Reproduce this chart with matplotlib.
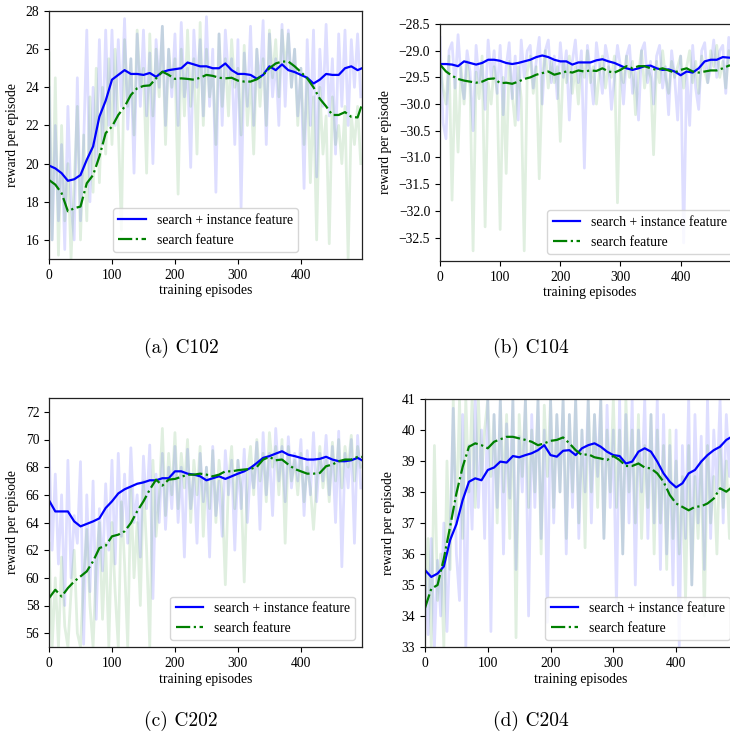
import numpy as np
import matplotlib
matplotlib.use("Agg")
import matplotlib.pyplot as plt

# ---------------- data ----------------
smooth_ep = list(range(0, 500, 10)) + [497]
raw_ep = list(range(0, 500, 5))

# (a) C102
a_smooth_blue = [19.9, 19.75, 19.5, 19.1, 19.18, 19.4, 20.2, 20.9, 22.46, 23.3,
                 24.4, 24.65, 24.9, 24.7, 24.7, 24.65, 24.75, 24.55, 24.8, 24.9,
                 24.95, 25.0, 25.3, 25.2, 25.1, 25.1, 25.0, 25.0, 25.25, 24.9,
                 24.7, 24.7, 24.65, 24.45, 24.65, 25.1, 24.9, 25.2, 24.9, 24.8,
                 24.65, 24.5, 24.2, 24.4, 24.7, 24.65, 24.65, 25.0, 25.1, 24.9, 25.0]
a_smooth_green = [19.14, 18.9, 18.45, 17.5, 17.66, 17.75, 18.97, 19.4, 20.37, 21.6,
                  21.94, 22.55, 22.98, 23.6, 23.95, 24.07, 24.1, 24.47, 24.82, 24.65,
                  24.44, 24.47, 24.44, 24.4, 24.5, 24.65, 24.6, 24.5, 24.47, 24.5,
                  24.35, 24.3, 24.3, 24.42, 24.65, 25.0, 25.25, 25.35, 25.35, 25.1,
                  24.8, 24.47, 24.0, 23.4, 23.0, 22.55, 22.55, 22.7, 22.45, 22.42, 23.1]
a_raw_blue = [24, 16, 22, 17, 21, 15.5, 23, 18, 16, 24.5, 17, 21,
              27, 18, 24, 20, 26.5, 21, 27, 22,
              27, 22, 26.5, 23, 27.6, 21.8, 25.5, 19.5, 26.8, 23, 27, 22.5, 25.8, 20, 26.5, 24, 27.2, 22, 26, 23.5,
              26.8, 22, 27.4, 23.5, 25, 19.8, 27, 24, 26.5, 22.5, 27.7, 23, 26, 18.5, 26.8, 22, 27, 24.5, 25.5, 21,
              26.5, 17.7, 25.8, 23, 27.2, 22, 26, 24, 27.5, 21, 26.8, 23.5, 25.5, 22, 27.3, 23, 27, 24, 26, 22.5,
              25, 18.7, 26.5, 22, 27, 19.3, 26, 23, 27.3, 22.5, 25.5, 20.5, 26.8, 23, 27, 22, 26.5, 24, 26.8, 23.5]
a_raw_green = [25.8, 16, 24.5, 15.2, 22, 17, 20, 15, 19, 23, 16, 21.5,
               17, 23.5, 18.5, 25, 19, 24, 20.5, 25.5,
               21, 26, 22, 16.5, 26.5, 23, 25.5, 21.5, 27, 24, 25, 19.5, 26.8, 22.5, 26, 23.5, 27.2, 21, 26, 24,
               25.5, 18.4, 26, 22.5, 27, 23, 25.5, 20.5, 27.4, 22, 26, 23.5, 25, 21, 26.8, 23, 25.5, 22.5, 26.5, 24,
               25, 21.5, 26.2, 22, 24.5, 20.5, 26, 23, 25.5, 22, 27, 24.5, 26.5, 23.5, 27, 25, 26.8, 24, 26, 22,
               25, 21, 24.5, 19, 23.5, 16, 24, 20.5, 22.5, 15.8, 23.5, 21, 22, 20, 23, 15, 22.5, 21, 23, 20]

# (b) C104
b_smooth_blue = [-29.25, -29.25, -29.26, -29.29, -29.2, -29.23, -29.26, -29.23, -29.17, -29.17,
                 -29.19, -29.23, -29.25, -29.23, -29.2, -29.17, -29.12, -29.09, -29.12, -29.17,
                 -29.2, -29.2, -29.26, -29.22, -29.22, -29.22, -29.18, -29.16, -29.2, -29.23,
                 -29.28, -29.33, -29.36, -29.33, -29.29, -29.28, -29.33, -29.36, -29.35, -29.39,
                 -29.46, -29.39, -29.41, -29.33, -29.2, -29.17, -29.17, -29.12, -29.13, -29.14, -29.14]
b_smooth_green = [-29.26, -29.39, -29.47, -29.53, -29.56, -29.58, -29.6, -29.58, -29.53, -29.52,
                  -29.61, -29.6, -29.62, -29.58, -29.53, -29.5, -29.45, -29.42, -29.39, -29.45,
                  -29.42, -29.39, -29.41, -29.37, -29.39, -29.37, -29.38, -29.33, -29.39, -29.41,
                  -29.36, -29.29, -29.33, -29.29, -29.29, -29.33, -29.36, -29.33, -29.37, -29.41,
                  -29.36, -29.33, -29.39, -29.41, -29.39, -29.37, -29.37, -29.33, -29.28, -29.27, -29.27]
b_raw_blue = [-28.75, -30.35, -30.65, -29.0, -28.85, -29.7, -28.7, -29.5, -29.9, -29.0,
              -29.4, -30.5, -28.9, -29.6, -29.2, -30.1, -28.8, -29.5, -29.0, -29.8,
              -28.9, -30.2, -29.3, -28.85, -29.9, -29.1, -30.3, -28.8, -29.5, -29.0,
              -28.9, -29.7, -29.2, -28.75, -30.0, -29.0, -28.8, -29.6, -29.1, -29.9,
              -28.85, -29.5, -29.0, -30.3, -29.2, -28.8, -29.6, -29.0, -31.2, -28.9,
              -29.4, -30.0, -28.85, -29.3, -29.8, -28.9, -29.2, -30.1, -29.5, -28.9,
              -29.3, -30.0, -29.1, -28.9, -29.8, -29.4, -30.3, -29.0, -28.85, -29.6,
              -29.2, -30.0, -29.1, -28.9, -29.7, -29.3, -30.2, -29.0, -29.5, -30.3,
              -29.1, -32.6, -29.4, -30.4, -28.9, -29.7, -30.1, -29.0, -28.85, -29.6,
              -29.3, -28.8, -29.5, -29.0, -28.9, -29.8, -28.75, -29.3, -29.0, -28.9]
b_raw_green = [-29.2, -29.7, -30.0, -29.1, -31.8, -29.5, -30.9, -29.3, -30.0, -29.2,
               -29.7, -32.75, -29.4, -29.9, -29.1, -32.3, -29.6, -30.0, -29.3, -29.8,
               -32.35, -29.5, -31.3, -29.2, -29.8, -30.4, -29.3, -29.9, -32.75, -29.4,
               -29.1, -29.8, -29.3, -31.4, -29.5, -29.0, -29.7, -29.2, -29.6, -29.3,
               -30.7, -29.2, -29.6, -29.1, -29.8, -29.3, -30.0, -29.2, -29.5, -29.0,
               -29.6, -29.3, -30.0, -29.4, -29.1, -29.7, -29.3, -29.5, -29.1, -31.85,
               -29.3, -29.6, -29.1, -29.5, -29.2, -30.2, -29.4, -29.0, -29.7, -29.3,
               -29.5, -30.95, -29.2, -29.6, -29.0, -29.5, -29.8, -29.2, -29.5, -29.3,
               -29.1, -29.7, -29.3, -29.0, -29.6, -29.2, -29.8, -29.1, -29.4, -29.6,
               -29.0, -29.3, -28.9, -29.5, -29.2, -29.7, -29.0, -29.3, -29.6, -29.1]

# (c) C202
c_smooth_blue = [65.6, 64.8, 64.8, 64.8, 64.08, 63.72, 63.9, 64.08, 64.3, 65.05,
                 65.53, 66.1, 66.4, 66.6, 66.8, 66.9, 67.05, 67.05, 67.2, 67.2,
                 67.7, 67.7, 67.53, 67.46, 67.34, 67.05, 67.2, 67.34, 67.15, 67.34,
                 67.53, 67.7, 67.95, 68.3, 68.67, 68.8, 68.98, 69.15, 68.9, 68.8,
                 68.67, 68.55, 68.55, 68.6, 68.75, 68.55, 68.43, 68.43, 68.5, 68.67, 68.5]
c_smooth_green = [58.53, 59.14, 58.65, 59.26, 59.74, 60.1, 60.47, 61.2, 62.15, 62.32,
                  63.0, 63.12, 63.36, 63.96, 64.81, 65.53, 66.38, 67.1, 66.67, 67.1,
                  67.15, 67.3, 67.46, 67.46, 67.53, 67.46, 67.34, 67.46, 67.7, 67.7,
                  67.78, 67.83, 67.87, 68.02, 68.55, 68.74, 68.5, 68.55, 68.19, 67.87,
                  67.7, 67.53, 67.53, 67.58, 68.07, 68.19, 68.43, 68.55, 68.55, 68.74, 68.74]
c_raw_blue = [69.6, 62, 67.5, 61, 66, 58, 68.5, 60, 64.5, 62.5, 68.4, 55.2, 66, 59, 67, 57, 65, 60.5, 66.8, 62,
              68.5, 61, 69, 63, 67.5, 62.5, 69.4, 64, 66, 61.5, 68.8, 65, 69.6, 58.5, 67.5, 64, 69, 63.5, 68, 65,
              69.5, 64, 68, 61.5, 69.3, 65, 67.5, 62.5, 69, 65.5, 68, 61.5, 69.5, 64.5, 67, 63, 69.2, 66, 68.5, 62,
              68.5, 65, 69.3, 64, 68, 66.5, 69.8, 63.5, 70.5, 66, 69, 64.5, 70.8, 67, 69.5, 65.5, 70.2, 66.5, 69, 67,
              70, 64.5, 69.2, 66, 70.5, 65.5, 69, 67, 70.3, 66, 69.5, 64, 70.6, 60.8, 69, 66.5, 70, 62.5, 70.3, 66.5]
c_raw_green = [62.5, 55, 60, 55, 61.5, 56.5, 55, 59, 62, 56, 55, 60, 63.5, 58, 55, 61, 64, 57, 62.5, 55,
               64, 59, 55, 65.5, 61, 55, 66.5, 60, 64, 58, 67, 62, 55, 68.5, 63, 66, 70.8, 64.5, 69, 66,
               70.5, 65, 69, 66.5, 70, 64, 68.5, 66, 69.5, 63, 68, 65, 69.2, 64, 68.5, 66, 59.5, 67, 69.5, 65,
               68.5, 66.5, 59.7, 67.5, 69.5, 66, 70, 67, 69, 65.5, 70.5, 68, 69.5, 66, 70, 62.5, 69.5, 67, 68.5, 66,
               69, 65.5, 68, 66.5, 63.5, 67, 69.5, 66.5, 68.5, 65.5, 69.8, 67, 70, 66.5, 69.5, 68, 70.3, 67, 69.5, 68]

# (d) C204
d_smooth_blue = [35.48, 35.26, 35.37, 35.6, 36.45, 36.96, 37.74, 38.33, 38.44, 38.38,
                 38.71, 38.79, 38.98, 38.95, 39.16, 39.12, 39.19, 39.25, 39.35, 39.51,
                 39.19, 39.14, 39.33, 39.35, 39.19, 39.41, 39.51, 39.57, 39.46, 39.3,
                 39.19, 39.16, 38.92, 38.98, 39.3, 39.41, 39.3, 38.98, 38.6, 38.33,
                 38.15, 38.28, 38.6, 38.71, 38.98, 39.19, 39.35, 39.46, 39.68, 39.8, 39.85]
d_smooth_green = [34.26, 34.88, 35.0, 35.85, 36.88, 37.95, 38.81, 39.46, 39.57, 39.51,
                  39.41, 39.62, 39.7, 39.78, 39.78, 39.73, 39.68, 39.62, 39.51, 39.57,
                  39.65, 39.68, 39.76, 39.57, 39.35, 39.19, 39.22, 39.12, 39.08, 39.03,
                  39.16, 39.03, 38.84, 38.84, 38.92, 38.79, 38.76, 38.6, 38.33, 37.9,
                  37.63, 37.52, 37.41, 37.52, 37.54, 37.63, 37.79, 38.12, 38.01, 38.17, 38.1]
d_raw_blue = [35.5, 33.4, 36.5, 33.0, 35.8, 34.0, 37.0, 33.5, 36.6, 40.7, 36.0, 34.5, 40.5, 33.0, 39.5, 36.8, 41.0, 37.5, 40.0, 36.5,
              41.0, 33.5, 40.5, 37.5, 41.0, 36.0, 40.2, 37.8, 41.0, 35.5, 39.8, 38.0, 41.0, 34.0, 40.5, 37.5, 41.0, 36.5, 40.0, 33.8,
              41.0, 37.0, 40.5, 38.0, 41.0, 36.0, 40.5, 37.5, 41.0, 36.5, 40.0, 38.0, 41.0, 37.0, 40.5, 38.5, 41.0, 36.5, 40.8, 37.5,
              40.0, 34.3, 41.0, 36.0, 40.5, 37.0, 41.0, 35.0, 40.0, 38.0, 41.0, 36.5, 40.5, 37.0, 41.0, 35.5, 40.5, 36.0, 39.5, 35.0,
              40.0, 33.0, 39.5, 36.5, 41.0, 35.0, 40.5, 37.0, 39.8, 35.5, 41.0, 36.5, 40.0, 38.0, 41.0, 37.0, 40.5, 38.5, 41.0, 37.5]
d_raw_green = [34.0, 36.5, 33.0, 39.5, 34.5, 36.0, 33.0, 39.0, 35.5, 41.0, 37.0, 41.0, 36.5, 41.0, 38.0, 41.0, 37.5, 41.0, 38.5, 40.0,
               41.0, 38.5, 40.5, 37.0, 41.0, 38.0, 40.5, 36.5, 41.0, 33.3, 40.5, 38.5, 41.0, 37.5, 40.0, 38.0, 41.0, 36.0, 40.8, 38.5,
               41.0, 37.5, 40.5, 38.0, 41.0, 36.5, 40.5, 38.0, 41.0, 37.0, 40.0, 36.2, 41.0, 38.0, 40.5, 37.5, 41.0, 36.5, 40.0, 38.0,
               41.0, 37.5, 40.0, 36.0, 41.0, 38.0, 40.0, 37.0, 40.5, 36.5, 39.5, 37.5, 40.5, 36.0, 40.0, 37.0, 39.5, 35.5, 40.0, 36.5,
               39.0, 36.0, 38.5, 34.5, 39.5, 35.0, 38.5, 36.5, 39.0, 34.0, 39.5, 37.0, 38.5, 36.0, 39.5, 37.5, 39.0, 36.5, 40.0, 37.0]

captions = ["(a) C102", "(b) C104", "(c) C202", "(d) C204"]
series_labels = ["search + instance feature", "search feature"]
x_label = "training episodes"
y_label = "reward per episode"

# ---------------- figure ----------------
W, H = 730, 748
plt.rcParams['font.family'] = ['Liberation Serif', 'DejaVu Serif']
plt.rcParams['font.size'] = 9.8
plt.rcParams['axes.unicode_minus'] = True

fig = plt.figure(figsize=(W / 100, H / 100), dpi=100)


def px_axes(left, top, right, bottom):
    return fig.add_axes([left / W, 1 - bottom / H, (right - left) / W, (bottom - top) / H])


panels = [
    dict(rect=(49, 11, 362, 259), sb=a_smooth_blue, sg=a_smooth_green, rb=a_raw_blue, rg=a_raw_green,
         ylim=(15, 28), yticks=[16, 18, 20, 22, 24, 26, 28], legloc='lower center', cap=(181, 353)),
    dict(rect=(440, 24, 739, 261), sb=b_smooth_blue, sg=b_smooth_green, rb=b_raw_blue, rg=b_raw_green,
         ylim=(-32.94, -28.5), yticks=[-32.5, -32.0, -31.5, -31.0, -30.5, -30.0, -29.5, -29.0, -28.5],
         legloc='lower right', cap=(531, 353)),
    dict(rect=(49, 398, 362, 647), sb=c_smooth_blue, sg=c_smooth_green, rb=c_raw_blue, rg=c_raw_green,
         ylim=(55, 73), yticks=[56, 58, 60, 62, 64, 66, 68, 70, 72], legloc='lower right', cap=(181, 726)),
    dict(rect=(425, 399, 737, 647), sb=d_smooth_blue, sg=d_smooth_green, rb=d_raw_blue, rg=d_raw_green,
         ylim=(33, 41), yticks=[33, 34, 35, 36, 37, 38, 39, 40, 41], legloc='lower right', cap=(531, 726)),
]

for p, cap in zip(panels, captions):
    ax = px_axes(*p['rect'])
    ax.plot(raw_ep, p['rb'], color='b', alpha=0.13, lw=2.0)
    ax.plot(raw_ep, p['rg'], color='g', alpha=0.12, lw=2.0)
    ax.plot(smooth_ep, p['sb'], color='b', lw=1.6, label=series_labels[0])
    ax.plot(smooth_ep, p['sg'], color='g', lw=1.6, ls='-.', label=series_labels[1])
    ax.set_xlim(0, 497)
    ax.set_ylim(*p['ylim'])
    ax.set_xticks([0, 100, 200, 300, 400])
    ax.set_yticks(p['yticks'])
    if p['ylim'][0] < 0:
        ax.set_yticklabels([f"{v:.1f}".replace('-', '\u2212') for v in p['yticks']])
    ax.set_xlabel(x_label, labelpad=2)
    ax.set_ylabel(y_label, labelpad=5)
    ax.legend(loc=p['legloc'], fontsize=9.8)
    for s in ax.spines.values():
        s.set_color('#222222')
        s.set_linewidth(0.9)
    cx, cy = p['cap']
    fig.text(cx / W, 1 - cy / H, cap, family='cmr10', fontsize=14, ha='center', va='baseline')

fig.savefig("out.png", dpi=100)
